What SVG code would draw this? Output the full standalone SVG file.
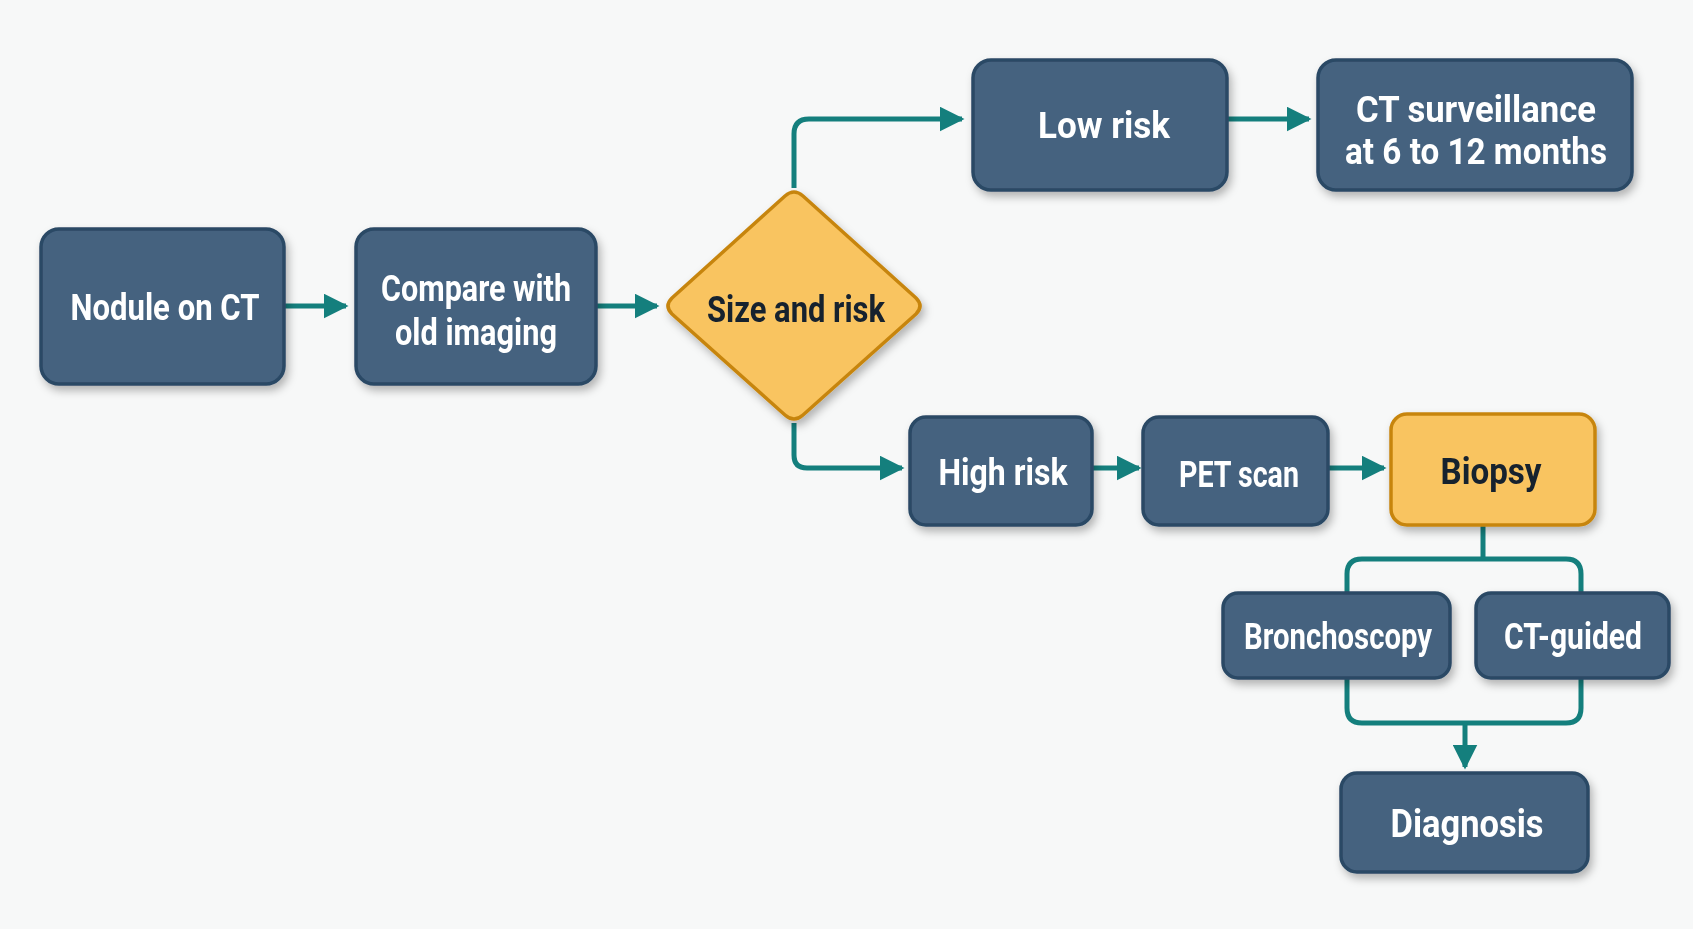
<svg xmlns="http://www.w3.org/2000/svg" width="1693" height="929" viewBox="0 0 1693 929">
<defs>
<style>
.box{fill:#44627f;stroke:#2b4865;stroke-width:3.5}
.hl{fill:#f9c460;stroke:#c7850f;stroke-width:3.5}
.t{font-family:Roboto,"Liberation Sans",sans-serif;font-weight:bold;font-size:36px;fill:#ffffff;text-anchor:middle}
.d{fill:#15202f}
.c{fill:none;stroke:#147f7d;stroke-width:5;stroke-linejoin:round}
</style>
<filter id="sh" x="-20%" y="-20%" width="140%" height="150%">
<feDropShadow dx="3" dy="5" stdDeviation="4" flood-color="#000" flood-opacity="0.28"/>
</filter>
<marker id="ah" viewBox="0 0 10 10" refX="9" refY="5" markerWidth="5" markerHeight="5" orient="auto" markerUnits="strokeWidth">
<path d="M0,0 L10,5 L0,10 Z" fill="#147f7d"/>
</marker>
</defs>
<rect width="1693" height="929" fill="#f7f8f8"/>
<g id="connectors">
<path class="c" d="M284,306 H346" marker-end="url(#ah)"/>
<path class="c" d="M596,306 H657" marker-end="url(#ah)"/>
<path class="c" d="M794,188 V134 Q794,119 809,119 H962" marker-end="url(#ah)"/>
<path class="c" d="M1227,119 H1309" marker-end="url(#ah)"/>
<path class="c" d="M794,423 V455 Q794,468 807,468 H902" marker-end="url(#ah)"/>
<path class="c" d="M1092,468 H1139" marker-end="url(#ah)"/>
<path class="c" d="M1328,468 H1384" marker-end="url(#ah)"/>
<path class="c" d="M1483,525 V559"/>
<path class="c" d="M1347,593 V574 Q1347,559 1362,559 H1566 Q1581,559 1581,574 V593"/>
<path class="c" d="M1347,678 V708 Q1347,723 1362,723 H1566 Q1581,723 1581,708 V678"/>
<path class="c" d="M1465,723 V767" marker-end="url(#ah)"/>
</g>
<g id="n-nodule" filter="url(#sh)">
<rect class="box" x="41" y="229" width="243" height="155" rx="18"/>
<text class="t" x="165" y="320" textLength="189" lengthAdjust="spacingAndGlyphs">Nodule on CT</text>
</g>
<g id="n-compare" filter="url(#sh)">
<rect class="box" x="356" y="229" width="240" height="155" rx="18"/>
<text class="t" x="476" y="301" textLength="190" lengthAdjust="spacingAndGlyphs">Compare with</text>
<text class="t" x="476" y="345" textLength="162" lengthAdjust="spacingAndGlyphs">old imaging</text>
</g>
<g id="n-size" filter="url(#sh)">
<path class="hl" d="M785,196 Q794,188 803,196 L916,298 Q924,306 916,314 L803,415 Q794,423 785,415 L672,314 Q664,306 672,298 Z"/>
<text class="t d" x="796" y="322" textLength="178" lengthAdjust="spacingAndGlyphs">Size and risk</text>
</g>
<g id="n-low" filter="url(#sh)">
<rect class="box" x="973" y="60" width="254" height="130" rx="18"/>
<text class="t" x="1104" y="138" textLength="132" lengthAdjust="spacingAndGlyphs">Low risk</text>
</g>
<g id="n-ctsurv" filter="url(#sh)">
<rect class="box" x="1318" y="60" width="314" height="130" rx="18"/>
<text class="t" x="1476" y="122" textLength="240" lengthAdjust="spacingAndGlyphs">CT surveillance</text>
<text class="t" x="1476" y="164" textLength="262" lengthAdjust="spacingAndGlyphs">at 6 to 12 months</text>
</g>
<g id="n-high" filter="url(#sh)">
<rect class="box" x="910" y="417" width="182" height="108" rx="16"/>
<text class="t" x="1003" y="485" textLength="129" lengthAdjust="spacingAndGlyphs">High risk</text>
</g>
<g id="n-pet" filter="url(#sh)">
<rect class="box" x="1143" y="417" width="185" height="108" rx="16"/>
<text class="t" x="1239" y="487" textLength="120" lengthAdjust="spacingAndGlyphs">PET scan</text>
</g>
<g id="n-biopsy" filter="url(#sh)">
<rect class="hl" x="1391" y="414" width="204" height="111" rx="16"/>
<text class="t d" x="1491" y="484" textLength="101" lengthAdjust="spacingAndGlyphs">Biopsy</text>
</g>
<g id="n-broncho" filter="url(#sh)">
<rect class="box" x="1223" y="593" width="227" height="85" rx="15"/>
<text class="t" x="1338" y="649" textLength="188" lengthAdjust="spacingAndGlyphs">Bronchoscopy</text>
</g>
<g id="n-ctguided" filter="url(#sh)">
<rect class="box" x="1476" y="593" width="193" height="85" rx="15"/>
<text class="t" x="1573" y="649" textLength="138" lengthAdjust="spacingAndGlyphs">CT-guided</text>
</g>
<g id="n-diagnosis" filter="url(#sh)">
<rect class="box" x="1341" y="773" width="247" height="99" rx="16"/>
<text class="t" x="1467" y="837" textLength="153" lengthAdjust="spacingAndGlyphs" style="font-size:38px">Diagnosis</text>
</g>
</svg>
